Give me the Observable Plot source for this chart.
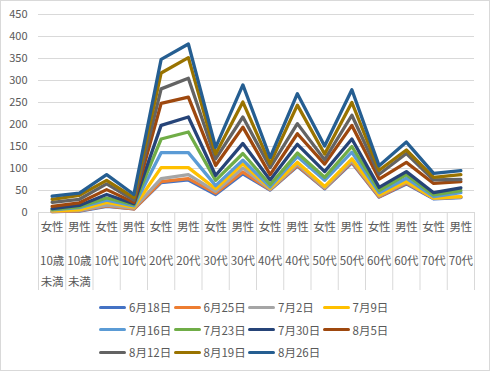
<!DOCTYPE html>
<html>
<head>
<meta charset="utf-8">
<script src="https://cdn.jsdelivr.net/npm/d3@7"></script>
<script src="https://cdn.jsdelivr.net/npm/@observablehq/plot@0.6"></script>
<style>
  body { margin: 0; background: #fff; }
  #wrap { position: relative; width: 490px; height: 371px; background: #fff; font-family: "Noto Sans CJK JP", "Noto Sans", sans-serif; }
  #wrap svg { position: absolute; left: 0; top: 0; }
  #frame { position: absolute; left: 0; top: 0; width: 490px; height: 371px; box-sizing: border-box; border: 1px solid #d9d9d9; pointer-events: none; }
  #legend { position: absolute; left: 99px; top: 296px; display: grid; grid-template-columns: repeat(4, 74.5px); grid-auto-rows: 22.5px; }
  .item { display: flex; align-items: center; font-size: 11.5px; color: #595959; white-space: nowrap; }
  .sw { display: inline-block; width: 27px; height: 3px; margin-right: 3px; border-radius: 1.5px; }
</style>
</head>
<body>
<div id="wrap"><div id="legend"></div><div id="frame"></div></div>
<script>
// Categories (x axis)
const genders = ["女性","男性","女性","男性","女性","男性","女性","男性","女性","男性","女性","男性","女性","男性","女性","男性"];
const ages = ["10歳\n未満","10歳\n未満","10代","10代","20代","20代","30代","30代","40代","40代","50代","50代","60代","60代","70代","70代"];

// Series (dates) and values
const dates = ["6月18日","6月25日","7月2日","7月9日","7月16日","7月23日","7月30日","8月5日","8月12日","8月19日","8月26日"];
const colors = ["#4472C4","#ED7D31","#A5A5A5","#FFC000","#5B9BD5","#70AD47","#264478","#9E480E","#636363","#997300","#255E91"];

const v0618 = [2, 3, 14, 8, 68, 74, 41, 88, 51, 105, 54, 113, 35, 65, 31, 34];
const v0625 = [2, 4, 15, 8, 70, 77, 44, 92, 52, 107, 55, 115, 36, 67, 32, 35];
const v0702 = [3, 5, 17, 10, 77, 86, 48, 101, 53, 110, 56, 118, 38, 69, 32, 35];
const v0709 = [4, 6, 23, 12, 102, 102, 54, 111, 55, 114, 59, 122, 40, 71, 33, 36];
const v0716 = [6, 11, 28, 15, 136, 136, 61, 119, 58, 127, 73, 137, 45, 78, 36, 45];
const v0723 = [7, 13, 33, 18, 167, 183, 73, 134, 63, 135, 80, 150, 50, 86, 40, 50];
const v0730 = [9, 16, 41, 20, 198, 217, 84, 157, 74, 155, 93, 167, 57, 93, 45, 56];
const v0805 = [14, 22, 52, 23, 248, 262, 107, 194, 86, 179, 110, 198, 76, 114, 66, 70];
const v0812 = [23, 30, 65, 28, 281, 305, 122, 217, 102, 202, 120, 221, 87, 134, 74, 75];
const v0819 = [30, 39, 73, 34, 317, 352, 133, 251, 111, 244, 133, 250, 96, 142, 80, 86];
const v0826 = [37, 44, 86, 41, 348, 383, 148, 290, 125, 270, 151, 279, 106, 160, 89, 95];

const yTicks = [0, 50, 100, 150, 200, 250, 300, 350, 400, 450];

const seriesValues = [v0618, v0625, v0702, v0709, v0716, v0723, v0730, v0805, v0812, v0819, v0826];
const data = [];
dates.forEach((d, si) => seriesValues[si].forEach((v, i) => data.push({date: d, idx: i, value: v})));
const idx = genders.map((g, i) => i);
const bounds = d3.range(genders.length + 1).map(i => i - 0.5);

const chart = Plot.plot({
  width: 490,
  height: 295,
  marginLeft: 38,
  marginRight: 16,
  marginTop: 14,
  marginBottom: 83,
  style: {fontFamily: '"Noto Sans CJK JP", "Noto Sans", sans-serif', fontSize: "11.5px", color: "#595959", background: "transparent", overflow: "visible"},
  x: {type: "linear", domain: [-0.5, genders.length - 0.5], axis: null},
  y: {domain: [0, 450], axis: null},
  color: {domain: dates, range: colors},
  marks: [
    Plot.ruleY(yTicks, {stroke: "#d9d9d9", strokeWidth: 1}),
    Plot.axisY(yTicks, {tickSize: 0, tickPadding: 11, label: null, fontSize: 11, fill: "#595959"}),
    Plot.ruleX(bounds, {stroke: "#d9d9d9", strokeWidth: 1, insetTop: 198, insetBottom: -78}),
    Plot.text(idx, {x: d => d, text: d => genders[d], frameAnchor: "bottom", dy: 18, fill: "#595959", fontSize: 11.5}),
    Plot.text(idx, {x: d => d, text: d => ages[d], frameAnchor: "bottom", lineAnchor: "top", dy: 38, lineHeight: 1.8, fill: "#595959", fontSize: 11.5}),
    Plot.line(data, {x: "idx", y: "value", z: "date", stroke: "date", strokeWidth: 3.3, strokeLinejoin: "round", strokeLinecap: "round"})
  ]
});
document.getElementById("wrap").prepend(chart);

const legend = d3.select("#legend");
dates.forEach((d, i) => {
  const it = legend.append("div").attr("class", "item");
  it.append("span").attr("class", "sw").style("background", colors[i]);
  it.append("span").text(d);
});
</script>
</body>
</html>
